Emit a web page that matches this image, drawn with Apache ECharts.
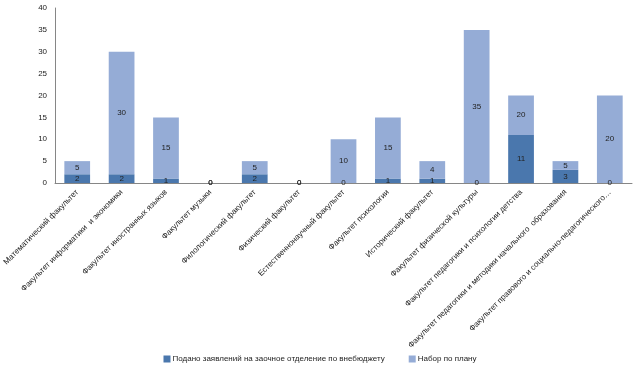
<!DOCTYPE html>
<html><head><meta charset="utf-8">
<script src="https://cdn.jsdelivr.net/npm/echarts@6/dist/echarts.min.js"></script>
<style>html,body{margin:0;padding:0;background:#fff}#c{width:640px;height:366px}</style>
</head><body><div id="c"></div>
<script>
var categories = ["Математический факультет","Факультет информатики  и экономики","Факультет иностранных языков","Факультет музыки","Филологический факультет","Физический факультет","Естественнонаучный факультет","Факультет психологии","Исторический факультет","Факультет физической культуры","Факультет педагогики и психологии детства","Факультет педагогики и методики начального  образования","Факультет правового и социально-педагогического…"];
var applied = [2,2,1,0,2,0,0,1,1,0,11,3,0];
var planSegment = [3,28,14,0,3,0,10,14,4,35,9,2,20];
var planLabels = [5,30,15,0,5,0,10,15,4,35,20,5,20];
var yTicks = [0,5,10,15,20,25,30,35,40];
var names = ["Подано заявлений на заочное отделение по внебюджету","Набор по плану"];

var font = "Liberation Sans";
var chart = echarts.init(document.getElementById('c'));
chart.setOption({
  animation:false,
  textStyle:{fontFamily:font},
  grid:{left:53,right:8,top:8,bottom:183},
  legend:{top:350,left:'center',itemWidth:7,itemHeight:7,itemGap:24,icon:'rect',
    textStyle:{fontSize:8,color:'#222',fontFamily:font,padding:[0,0,0,-3]},data:names},
  xAxis:{type:'category',data:categories,
    axisLine:{lineStyle:{color:'#868686'}},axisTick:{show:false},
    axisLabel:{rotate:45,fontSize:8,color:'#222',interval:0,margin:8}},
  yAxis:{type:'value',min:yTicks[0],max:yTicks[yTicks.length-1],interval:5,
    splitLine:{show:false},axisLine:{show:true,lineStyle:{color:'#868686'}},axisTick:{show:false},
    axisLabel:{fontSize:8,color:'#222',margin:8}},
  series:[
    {name:names[0],type:'bar',stack:'s',data:applied,barWidth:'58%',
     itemStyle:{color:'#4a77ad'},
     label:{show:true,position:'inside',fontSize:8,color:'#222'}},
    {name:names[1],type:'bar',stack:'s',data:planSegment,barWidth:'58%',
     itemStyle:{color:'#95acd6'},
     label:{show:true,position:'inside',fontSize:8,color:'#222',
       formatter:function(p){return planLabels[p.dataIndex];}}}
  ]
});
</script></body></html>
